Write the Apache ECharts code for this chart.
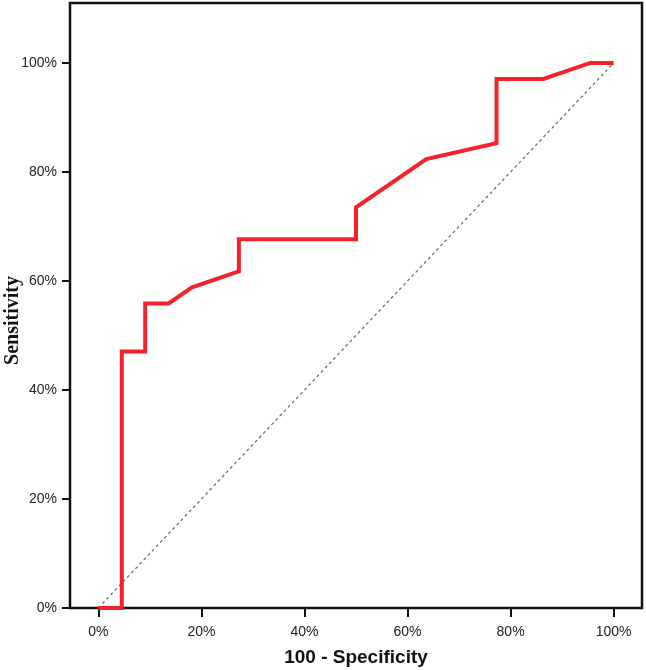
<!DOCTYPE html>
<html>
<head>
<meta charset="utf-8">
<script src="https://cdn.jsdelivr.net/npm/echarts@6/dist/echarts.min.js"></script>
<style>
html,body{margin:0;padding:0;background:#fff;}
#chart{width:646px;height:670px;}
</style>
</head>
<body>
<div id="chart"></div>
<script>
// ROC curve: 100 - Specificity (%) vs Sensitivity (%)
const fpr = [0, 4.55, 4.55, 9.09, 9.09, 13.64, 18.18, 27.27, 27.27, 50, 50, 63.64, 77.27, 77.27, 86.36, 95.45, 100];
const tpr = [0, 0, 47.06, 47.06, 55.88, 55.88, 58.82, 61.76, 67.65, 67.65, 73.53, 82.35, 85.29, 97.06, 97.06, 100, 100];
const refX = [0, 100];
const refY = [0, 100];
const tickValues = [0, 20, 40, 60, 80, 100];
const xTitle = '100 - Specificity';
const yTitle = 'Sensitivity';

const rocData = fpr.map((x, i) => [x, tpr[i]]);
const refData = refX.map((x, i) => [x, refY[i]]);

const chart = echarts.init(document.getElementById('chart'), null, {renderer: 'canvas'});
const labelStyle = {
  fontFamily: 'Liberation Sans',
  fontSize: 14,
  color: '#222',
  formatter: v => Math.round(v) + '%'
};
chart.setOption({
  animation: false,
  backgroundColor: '#fff',
  grid: {
    left: 70, right: 4, top: 3, bottom: 62,
    containLabel: false, outerBoundsMode: 'none',
    show: true, borderColor: '#111', borderWidth: 2.5, backgroundColor: 'transparent'
  },
  xAxis: {
    type: 'value', min: -5.5, max: 105.5,
    splitLine: {show: false},
    axisLine: {show: false, onZero: false},
    axisTick: {show: true, inside: false, length: 9, lineStyle: {color: '#111', width: 2}, customValues: tickValues},
    axisLabel: Object.assign({margin: 17, customValues: tickValues}, labelStyle),
    name: xTitle, nameLocation: 'middle', nameGap: 40, nameMoveOverlap: false,
    nameTextStyle: {fontFamily: 'Liberation Sans', fontWeight: 'bold', fontSize: 19, color: '#111'}
  },
  yAxis: {
    type: 'value', min: 0, max: 111,
    splitLine: {show: false},
    axisLine: {show: false, onZero: false},
    axisTick: {show: true, inside: false, length: 8, lineStyle: {color: '#111', width: 2}, customValues: tickValues},
    axisLabel: Object.assign({margin: 13, customValues: tickValues}, labelStyle),
    name: yTitle, nameLocation: 'middle', nameGap: 47, nameMoveOverlap: false,
    nameTextStyle: {fontFamily: 'Liberation Serif', fontWeight: 'bold', fontSize: 20, color: '#111', padding: [0, 30, 0, 0]}
  },
  series: [
    {
      type: 'line', data: refData, symbol: 'none', clip: false, z: 2,
      lineStyle: {color: '#666', width: 1.2, type: [3, 3]}
    },
    {
      type: 'line', data: rocData, symbol: 'none', clip: false, z: 3,
      lineStyle: {color: '#f4222b', width: 4, join: 'miter'}
    }
  ]
});
</script>
</body>
</html>
